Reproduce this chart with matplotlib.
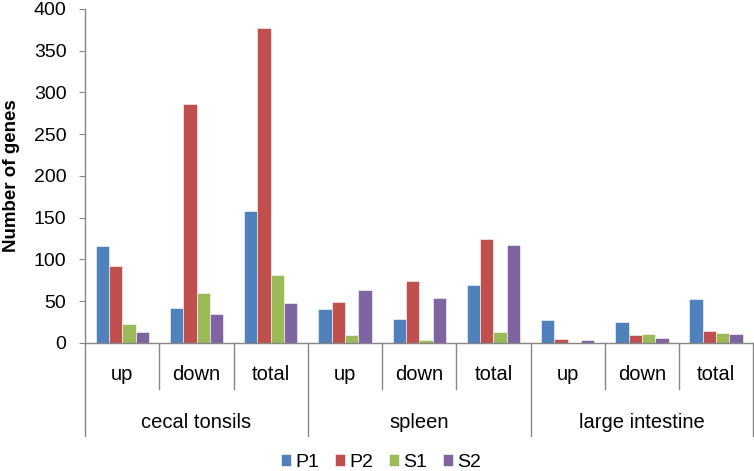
import numpy as np
import matplotlib.pyplot as plt
from matplotlib.transforms import blended_transform_factory

plt.rcParams['font.family'] = ['Liberation Sans', 'DejaVu Sans']

tissues = ["cecal tonsils", "spleen", "large intestine"]
subcats = ["up", "down", "total"]
series = ["P1", "P2", "S1", "S2"]
colors = ["#4F81BD", "#C0504D", "#9BBB59", "#8064A2"]

p1 = [116, 42, 158, 40, 29, 69, 27, 25, 52]
p2 = [92, 286, 377, 49, 74, 124, 5, 9, 14]
s1 = [23, 60, 81, 10, 3, 13, 0, 11, 12]
s2 = [13, 35, 48, 63, 54, 117, 4, 6, 11]
values = [p1, p2, s1, s2]

fig = plt.figure(figsize=(7.54, 4.71), dpi=100)
ax = fig.add_axes([0.113, 0.272, 0.886, 0.709])

n = len(p1)
x = np.arange(n)
w = 0.18
for i, (vals, c, name) in enumerate(zip(values, colors, series)):
    ax.bar(x + (i - 1.5) * w, vals, w, color=c, label=name, edgecolor='white', linewidth=0.4)

ax.set_xlim(-0.5, n - 0.5)
ax.set_ylim(0, 400)
ax.set_yticks(np.arange(0, 401, 50))
ax.tick_params(axis='y', labelsize=14, length=4.5, pad=9, color='#868686', direction='out')
ax.set_xticks([])
ax.set_ylabel("Number of genes", fontsize=13.5, fontweight='bold')
ax.yaxis.set_label_coords(-0.098, 0.5)

for side in ['top', 'right']:
    ax.spines[side].set_visible(False)
for side in ['left', 'bottom']:
    ax.spines[side].set_color('#868686')
    ax.spines[side].set_linewidth(1)

trans = blended_transform_factory(ax.transData, ax.transAxes)
# sub-category separators and group separators below the axis
for k in range(n + 1):
    xpos = k - 0.5
    ybot = -0.278 if k % 3 == 0 else -0.138
    ax.plot([xpos, xpos], [0, ybot], color='#868686', lw=1, transform=trans, clip_on=False)

for k in range(n):
    ax.text(x[k], -0.096, subcats[k % 3], transform=trans, ha='center', va='center', fontsize=14.5)
for g, name in enumerate(tissues):
    ax.text(g * 3 + 1, -0.237, name, transform=trans, ha='center', va='center', fontsize=14.5)

leg = fig.legend(loc='center', bbox_to_anchor=(0.505, 0.019), ncol=4, frameon=False,
                 fontsize=14, handlelength=0.55, handleheight=0.55, handletextpad=0.2,
                 columnspacing=0.8)

fig.savefig("out.png", dpi=100)
